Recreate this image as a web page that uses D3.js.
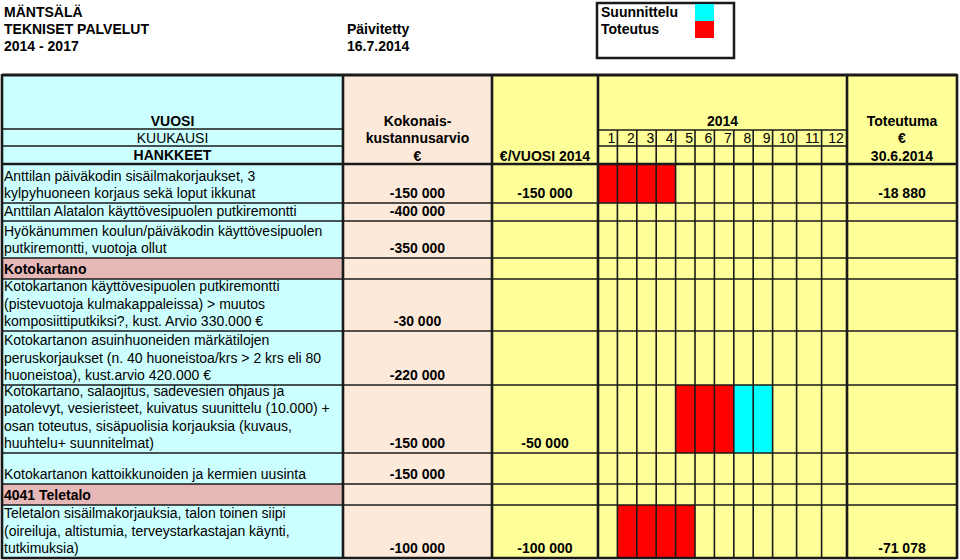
<!DOCTYPE html>
<html>
<head>
<meta charset="utf-8">
<script src="https://cdn.jsdelivr.net/npm/d3@7"></script>
<style>
    body { margin: 0; background: #fff; }
    text { font-family: Arial, "Liberation Sans", sans-serif; fill: #000; }
</style>
</head>
<body>
<svg id="chart" width="960" height="560"></svg>
<script>
'use strict';

// --- data read from the sheet ---
var titleLines = ['MÄNTSÄLÄ', 'TEKNISET PALVELUT', '2014 - 2017'];
var updatedLines = ['Päivitetty', '16.7.2014'];
var legendLabels = ['Suunnittelu', 'Toteutus'];

var months = [1, 2, 3, 4, 5, 6, 7, 8, 9, 10, 11, 12];

var projects = [
    ['Anttilan päiväkodin sisäilmakorjaukset, 3', 'kylpyhuoneen korjaus sekä loput ikkunat'],
    ['Anttilan Alatalon käyttövesipuolen putkiremontti'],
    ['Hyökänummen koulun/päiväkodin käyttövesipuolen', 'putkiremontti, vuotoja ollut'],
    ['Kotokartano'],
    ['Kotokartanon käyttövesipuolen putkiremontti', '(pistevuotoja kulmakappaleissa) > muutos', 'komposiittiputkiksi?, kust. Arvio 330.000 €'],
    ['Kotokartanon asuinhuoneiden märkätilojen', 'peruskorjaukset (n. 40 huoneistoa/krs > 2 krs eli 80', 'huoneistoa), kust.arvio 420.000 €'],
    ['Kotokartano, salaojitus, sadevesien ohjaus ja', 'patolevyt, vesieristeet, kuivatus suunittelu (10.000) +', 'osan toteutus, sisäpuolisia korjauksia (kuvaus,', 'huuhtelu+ suunnitelmat)'],
    ['Kotokartanon kattoikkunoiden ja kermien uusinta'],
    ['4041 Teletalo'],
    ['Teletalon sisäilmakorjauksia, talon toinen siipi', '(oireiluja, altistumia, terveystarkastajan käynti,', 'tutkimuksia)']
];
var sectionRows = [false, false, false, true, false, false, false, false, true, false];
var totalCost = [-150000, -400000, -350000, null, -30000, -220000, -150000, -150000, null, -100000];
var cost2014 = [-150000, null, null, null, null, null, -50000, null, null, -100000];
var realised = [-18880, null, null, null, null, null, null, null, null, -71078];
var planMonths = [[], [], [], [], [], [], [8, 9], [], [], []];
var buildMonths = [[1, 2, 3, 4], [], [], [], [], [], [5, 6, 7], [], [], [2, 3, 4, 5]];

// --- layout ---
var COLORS = {
    desc: '#ccffff',
    total: '#fde9d9',
    yellow: '#ffff99',
    section: '#e6b8b7',
    plan: '#00ffff',
    build: '#ff0000',
    line: '#1a1a1a'
};
var TABLE = { top: 75, headerBottom: 164, left: 2, right: 957 };
var COL = { desc: 343, total: 492, year: 598, months: 847 };
var ROW_HEIGHTS = [39, 18, 37, 21, 52, 54, 68, 31, 21, 53];
var MONTH_WIDTHS = [19.4, 19.4, 19.4, 19.4, 19.4, 19.4, 19.4, 19.4, 19.4, 24, 25, 24.3];
var LINE_H = 17.3;
var FONT = 14;

var svg = d3.select('#chart');
var fmt = d3.formatLocale({ decimal: ',', thousands: '\u00a0', grouping: [3], currency: ['', ' €'], minus: '-' }).format(',d');

// row edges
var rowTops = [];
var acc = TABLE.headerBottom;
ROW_HEIGHTS.forEach(function (h) { rowTops.push(acc); acc += h; });
var tableBottom = acc;
var y = function (i) { return rowTops[i]; };
var yBottom = function (i) { return rowTops[i] + ROW_HEIGHTS[i]; };

// month edges
var monthEdges = [COL.year];
MONTH_WIDTHS.forEach(function (w, i) { monthEdges.push(monthEdges[i] + w); });
var xMonth = d3.scaleOrdinal().domain(months).range(monthEdges.slice(0, 12));
var wMonth = d3.scaleOrdinal().domain(months).range(MONTH_WIDTHS);

// --- heading ---
svg.append('g').selectAll('text').data(titleLines).join('text')
    .attr('x', 4).attr('y', function (d, i) { return 17 + i * 17; })
    .attr('font-size', 14).attr('font-weight', 'bold').text(function (d) { return d; });
svg.append('g').selectAll('text').data(updatedLines).join('text')
    .attr('x', 347).attr('y', function (d, i) { return 34 + i * 17; })
    .attr('font-size', 14).attr('font-weight', 'bold').text(function (d) { return d; });

var legend = svg.append('g');
legend.append('rect').attr('x', 597).attr('y', 3).attr('width', 137).attr('height', 55)
    .attr('fill', '#fff').attr('stroke', COLORS.line).attr('stroke-width', 2.5);
legend.selectAll('rect.swatch').data(legendLabels).join('rect').attr('class', 'swatch')
    .attr('x', 695).attr('y', function (d, i) { return 4 + i * 17; })
    .attr('width', 19).attr('height', 17)
    .attr('fill', function (d, i) { return i === 0 ? COLORS.plan : COLORS.build; });
legend.selectAll('text').data(legendLabels).join('text')
    .attr('x', 601).attr('y', function (d, i) { return 17 + i * 17; })
    .attr('font-size', 14).attr('font-weight', 'bold').text(function (d) { return d; });

// --- backgrounds ---
var bg = svg.append('g');
var bodyH = tableBottom - TABLE.top;
bg.append('rect').attr('x', TABLE.left).attr('y', TABLE.top).attr('width', COL.desc - TABLE.left).attr('height', bodyH).attr('fill', COLORS.desc);
bg.append('rect').attr('x', COL.desc).attr('y', TABLE.top).attr('width', COL.total - COL.desc).attr('height', bodyH).attr('fill', COLORS.total);
bg.append('rect').attr('x', COL.total).attr('y', TABLE.top).attr('width', TABLE.right - COL.total).attr('height', bodyH).attr('fill', COLORS.yellow);
bg.selectAll('rect.section').data(projects.map(function (d, i) { return i; }).filter(function (i) { return sectionRows[i]; }))
    .join('rect').attr('class', 'section')
    .attr('x', TABLE.left).attr('y', y).attr('width', COL.desc - TABLE.left)
    .attr('height', function (i) { return ROW_HEIGHTS[i]; }).attr('fill', COLORS.section);

// gantt cells
function monthCells(list, color, cls) {
    var cells = [];
    list.forEach(function (ms, i) { ms.forEach(function (m) { cells.push({ row: i, month: m }); }); });
    bg.selectAll('rect.' + cls).data(cells).join('rect').attr('class', cls)
        .attr('x', function (d) { return xMonth(d.month); })
        .attr('y', function (d) { return y(d.row); })
        .attr('width', function (d) { return wMonth(d.month); })
        .attr('height', function (d) { return ROW_HEIGHTS[d.row]; })
        .attr('fill', color);
}
monthCells(buildMonths, COLORS.build, 'build');
monthCells(planMonths, COLORS.plan, 'plan');

// --- grid lines ---
var grid = svg.append('g').attr('stroke', COLORS.line).attr('fill', 'none');
function hline(x1, x2, yy, w) {
    grid.append('line').attr('x1', x1).attr('x2', x2).attr('y1', yy).attr('y2', yy).attr('stroke-width', w);
}
function vline(xx, y1, y2, w) {
    grid.append('line').attr('x1', xx).attr('x2', xx).attr('y1', y1).attr('y2', y2).attr('stroke-width', w);
}
hline(TABLE.left, COL.desc, 129, 1.6);
hline(TABLE.left, COL.desc, 146, 1.6);
hline(COL.year, COL.months, 130, 1.6);
hline(COL.year, COL.months, 146, 1.6);
rowTops.slice(1).forEach(function (t) { hline(TABLE.left, TABLE.right, t, 1.6); });
monthEdges.slice(1, 12).forEach(function (e) { vline(e, 130, tableBottom, 1.6); });
hline(TABLE.left, TABLE.right, TABLE.headerBottom, 2.6);
[TABLE.left, COL.desc, COL.total, COL.year, COL.months, TABLE.right].forEach(function (e) {
    vline(e, TABLE.top - 1, tableBottom + 1, 2.6);
});
hline(TABLE.left, TABLE.right, TABLE.top, 3);
hline(TABLE.left, TABLE.right, tableBottom, 2.6);

// --- header text ---
var head = svg.append('g').attr('font-size', FONT).attr('text-anchor', 'middle');
function headText(x, yy, t, bold) {
    head.append('text').attr('x', x).attr('y', yy).attr('font-weight', bold ? 'bold' : 'normal').text(t);
}
var cDesc = (TABLE.left + COL.desc) / 2;
var cTotal = (COL.desc + COL.total) / 2;
var cYear = (COL.total + COL.year) / 2;
var cMonths = (COL.year + COL.months) / 2;
var cReal = (COL.months + TABLE.right) / 2;
headText(cDesc, 126, 'VUOSI', true);
headText(cDesc, 142.5, 'KUUKAUSI', false);
headText(cDesc, 159.5, 'HANKKEET', true);
headText(cTotal, 126, 'Kokonais-', true);
headText(cTotal, 143, 'kustannusarvio', true);
headText(cTotal, 160.5, '€', true);
headText(cYear, 161, '€/VUOSI 2014', true);
headText(cMonths, 126, '2014', true);
headText(cReal, 126, 'Toteutuma', true);
headText(cReal, 143, '€', true);
headText(cReal, 161, '30.6.2014', true);
head.selectAll('text.month').data(months).join('text').attr('class', 'month')
    .attr('text-anchor', 'end')
    .attr('x', function (m) { return xMonth(m) + wMonth(m) - 2; })
    .attr('y', 143).text(function (m) { return m; });

// --- body text ---
var body = svg.append('g').attr('font-size', FONT);
body.selectAll('g.desc').data(projects).join('g').attr('class', 'desc')
    .each(function (lines, i) {
        d3.select(this).selectAll('text').data(lines).join('text')
            .attr('x', 4)
            .attr('y', function (d, k) { return yBottom(i) - 5 - (lines.length - 1 - k) * LINE_H; })
            .attr('font-weight', sectionRows[i] ? 'bold' : 'normal')
            .text(function (d) { return d; });
    });

function numberColumn(values, cx) {
    body.append('g').attr('text-anchor', 'middle').attr('font-weight', 'bold')
        .selectAll('text').data(values.map(function (v, i) { return { v: v, i: i }; }).filter(function (d) { return d.v !== null; }))
        .join('text')
        .attr('x', cx).attr('y', function (d) { return yBottom(d.i) - 5; })
        .text(function (d) { return fmt(d.v); });
}
numberColumn(totalCost, cTotal);
numberColumn(cost2014, cYear);
numberColumn(realised, cReal);
</script>
</body>
</html>
